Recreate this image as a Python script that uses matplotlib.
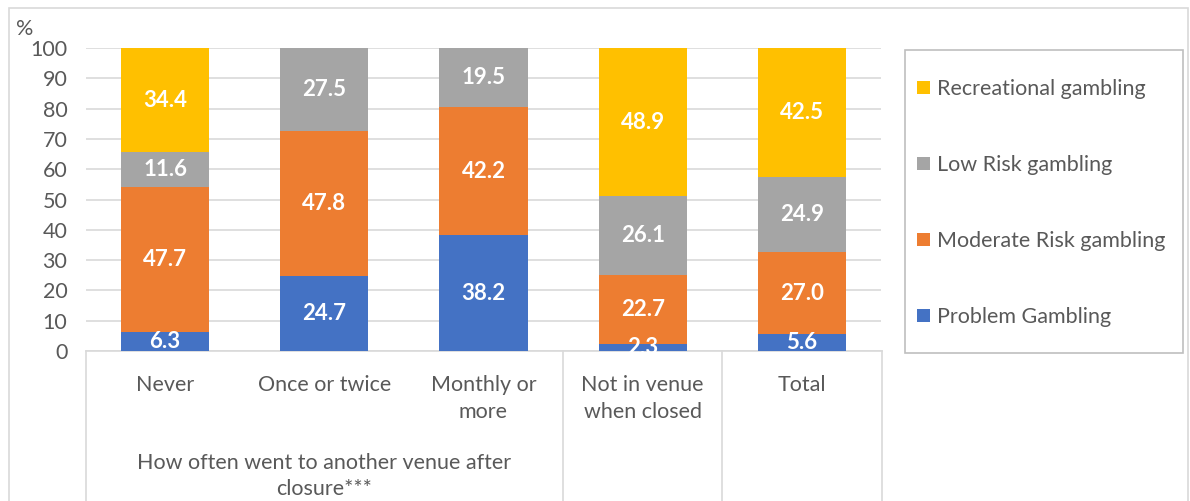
import matplotlib.pyplot as plt
from matplotlib.patches import Rectangle

plt.rcParams['font.family'] = ['Lato', 'DejaVu Sans']

# data
categories = ["Never", "Once or twice", "Monthly or\nmore", "Not in venue\nwhen closed", "Total"]
problem = [6.3, 24.7, 38.2, 2.3, 5.6]
moderate = [47.7, 47.8, 42.2, 22.7, 27.0]
low_risk = [11.6, 27.5, 19.5, 26.1, 24.9]
recreational = [34.4, 0.0, 0.0, 48.9, 42.5]
series_names = ["Problem Gambling", "Moderate Risk gambling", "Low Risk gambling", "Recreational gambling"]
colors = ["#4472C4", "#ED7D31", "#A5A5A5", "#FFC000"]
group_label = "How often went to another venue after\nclosure***"

text_col = "#595959"
grid_col = "#D9D9D9"
fs = 15.5

fig = plt.figure(figsize=(11.9, 5.01), dpi=100)
ax = fig.add_axes([85.5 / 1190, 1 - 351 / 501, 796 / 1190, 303 / 501])

x = list(range(len(categories)))
bottom = [0.0] * len(categories)
bars = []
for name, vals, col in zip(series_names, [problem, moderate, low_risk, recreational], colors):
    b = ax.bar(x, vals, width=0.555, bottom=bottom, color=col, label=name, zorder=3)
    bars.append(b)
    for xi, v, b0 in zip(x, vals, bottom):
        if v > 0:
            ax.text(xi, b0 + v / 2, "%.1f" % v, ha="center", va="center",
                    color="white", fontsize=16, fontweight="bold", zorder=4)
    bottom = [b0 + v for b0, v in zip(bottom, vals)]

ax.set_xlim(-0.5, len(categories) - 0.5)
ax.set_ylim(0, 100)
ax.set_yticks(range(0, 101, 10))
ax.yaxis.grid(True, color=grid_col, linewidth=1.2, zorder=0)
ax.set_axisbelow(True)
for s in ["top", "right", "left"]:
    ax.spines[s].set_visible(False)
ax.spines["bottom"].set_color(grid_col)
ax.spines["bottom"].set_linewidth(1.2)
ax.tick_params(axis="y", length=0, pad=13, labelsize=fs, labelcolor=text_col)
ax.set_xticks(x)
ax.set_xticklabels(categories)
ax.tick_params(axis="x", length=0, pad=17, labelsize=fs, labelcolor=text_col)
for lbl in ax.get_xticklabels():
    lbl.set_linespacing(1.45)

# separators under the axis
for xs in [-0.5, 2.5, 3.5, 4.5]:
    ax.plot([xs, xs], [0, -0.5], transform=ax.get_xaxis_transform(),
            color=grid_col, linewidth=1.2, clip_on=False)
ax.text(1, (351 - 453) / 303, group_label, transform=ax.get_xaxis_transform(),
        ha="center", va="top", fontsize=fs, color=text_col, linespacing=1.4)

fig.text(25 / 1190, 1 - 29 / 501, "%", ha="center", va="center", fontsize=fs, color=text_col)

# outer frame
fig.patches.append(Rectangle((9 / 1190, -0.05), 1179 / 1190, 1.05 - 8 / 501,
                             transform=fig.transFigure, fill=False,
                             edgecolor=grid_col, linewidth=1.2))

# legend box
fig.patches.append(Rectangle((905 / 1190, 1 - 353 / 501), 278 / 1190, 303 / 501,
                             transform=fig.transFigure, fill=False,
                             edgecolor="#BFBFBF", linewidth=1.2))

handles = [b for b in bars][::-1]
leg = fig.legend(handles, [h.get_label() for h in handles], loc="center left",
                 bbox_to_anchor=(917 / 1190, 1 - 203 / 501), frameon=False,
                 fontsize=fs, labelspacing=2.6, handlelength=0.6, handleheight=0.6,
                 handletextpad=0.35, borderpad=0, borderaxespad=0)
for t in leg.get_texts():
    t.set_color(text_col)

fig.savefig("out.png", dpi=100)
